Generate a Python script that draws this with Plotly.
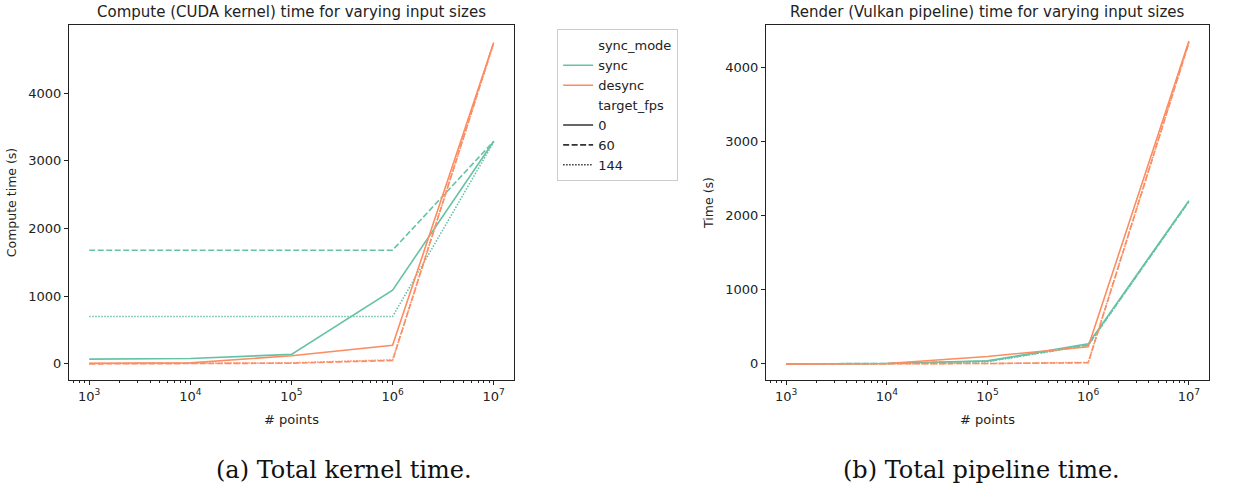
import plotly.graph_objects as go

# ---------------- data ----------------
points = [1e3, 1e4, 1e5, 1e6, 1e7]
x_tickvals = [1e3, 1e4, 1e5, 1e6, 1e7]
x_ticktext = ["10<sup>3</sup>", "10<sup>4</sup>", "10<sup>5</sup>", "10<sup>6</sup>", "10<sup>7</sup>"]

# Compute (CUDA kernel) time
compute_sync_0 = [70, 80, 140, 1090, 3290]
compute_sync_60 = [1680, 1680, 1680, 1680, 3290]
compute_sync_144 = [700, 700, 700, 700, 3280]
compute_desync_0 = [10, 15, 120, 275, 4750]
compute_desync_60 = [0, 0, 10, 50, 4750]
compute_desync_144 = [5, 5, 15, 60, 4740]

# Render (Vulkan pipeline) time
render_sync_0 = [0, 5, 40, 270, 2200]
render_sync_60 = [0, 5, 35, 255, 2190]
render_sync_144 = [0, 5, 30, 250, 2190]
render_desync_0 = [0, 5, 100, 230, 4350]
render_desync_60 = [0, 0, 5, 15, 4330]
render_desync_144 = [0, 0, 5, 20, 4330]

sync_modes = ["sync", "desync"]
target_fps = ["0", "60", "144"]

# ---------------- styles ----------------
GREEN = "#66c2a5"
ORANGE = "#fc8d62"
DARK = "#333333"
DASH = {"0": "solid", "60": "6px,2.5px", "144": "1.5px,1.5px"}
FONT = "DejaVu Sans"
LW = 1.6

fig = go.Figure()

compute = {
    ("sync", "0"): compute_sync_0, ("sync", "60"): compute_sync_60, ("sync", "144"): compute_sync_144,
    ("desync", "0"): compute_desync_0, ("desync", "60"): compute_desync_60, ("desync", "144"): compute_desync_144,
}
render = {
    ("sync", "0"): render_sync_0, ("sync", "60"): render_sync_60, ("sync", "144"): render_sync_144,
    ("desync", "0"): render_desync_0, ("desync", "60"): render_desync_60, ("desync", "144"): render_desync_144,
}
colors = {"sync": GREEN, "desync": ORANGE}

for data, xa, ya in [(compute, "x", "y"), (render, "x2", "y2")]:
    for mode in sync_modes:
        for fps in target_fps:
            fig.add_trace(go.Scatter(
                x=points, y=data[(mode, fps)], mode="lines",
                line=dict(color=colors[mode], width=LW, dash=DASH[fps]),
                xaxis=xa, yaxis=ya, showlegend=False, hoverinfo="skip"))

# legend entries
def legend_entry(name, color, dash="solid", width=LW):
    fig.add_trace(go.Scatter(x=[None], y=[None], mode="lines", name=name,
                             line=dict(color=color, width=width, dash=dash),
                             showlegend=True, xaxis="x", yaxis="y"))

legend_entry("sync_mode", "rgba(0,0,0,0)")
legend_entry("sync", GREEN)
legend_entry("desync", ORANGE)
legend_entry("target_fps", "rgba(0,0,0,0)")
legend_entry("0", DARK)
legend_entry("60", DARK, "6px,2.5px")
legend_entry("144", DARK, "1.5px,1.5px")

minor_vals = [m * 10 ** e for e in range(2, 8) for m in range(2, 10)]

def xaxis(domain, anchor):
    return dict(
        type="log", domain=domain, anchor=anchor, range=[2.8, 7.2],
        tickvals=x_tickvals, ticktext=x_ticktext,
        ticks="outside", ticklen=4, tickwidth=1, tickcolor="#222",
        minor=dict(ticks="outside", ticklen=2, tickwidth=0.8, tickcolor="#222", tickvals=minor_vals, showgrid=False),
        showline=True, linecolor="#222", linewidth=1, mirror=True,
        showgrid=False, zeroline=False,
        tickfont=dict(family=FONT, size=13, color="#222"),
        title=dict(text="# points", font=dict(family=FONT, size=13, color="#222"), standoff=12),
    )

def yaxis(domain, anchor, rng, title):
    return dict(
        domain=domain, anchor=anchor, range=rng,
        tickvals=[0, 1000, 2000, 3000, 4000],
        ticks="outside", ticklen=4, tickwidth=1, tickcolor="#222",
        showline=True, linecolor="#222", linewidth=1, mirror=True,
        showgrid=False, zeroline=False,
        tickfont=dict(family=FONT, size=13, color="#222"),
        title=dict(text=title, font=dict(family=FONT, size=12.5, color="#222"), standoff=8),
    )

ydom = [0.2261, 0.9491]
fig.update_layout(
    width=1252, height=491,
    margin=dict(l=0, r=0, t=0, b=0),
    paper_bgcolor="white", plot_bgcolor="white",
    xaxis=xaxis([0.0551, 0.4105], "y"),
    yaxis=yaxis(ydom, "x", [-238, 5008], "Compute time (s)"),
    xaxis2=xaxis([0.6118, 0.9657], "y2"),
    yaxis2=yaxis(ydom, "x2", [-217, 4567], "Time (s)"),
    legend=dict(x=0.445, y=0.94, xanchor="left", yanchor="top",
                bordercolor="#cccccc", borderwidth=1, bgcolor="white",
                font=dict(family=FONT, size=13, color="#222"),
                itemwidth=30, tracegroupgap=0),
    annotations=[
        dict(text="Compute (CUDA kernel) time for varying input sizes", x=0.2328, y=0.975,
             xref="paper", yref="paper", xanchor="center", yanchor="middle", showarrow=False,
             font=dict(family=FONT, size=15, color="#222")),
        dict(text="Render (Vulkan pipeline) time for varying input sizes", x=0.7888, y=0.975,
             xref="paper", yref="paper", xanchor="center", yanchor="middle", showarrow=False,
             font=dict(family=FONT, size=15, color="#222")),
        dict(text="(a) Total kernel time.", x=0.2747, y=0.042,
             xref="paper", yref="paper", xanchor="center", yanchor="middle", showarrow=False,
             font=dict(family="DejaVu Serif", size=24, color="#111")),
        dict(text="(b) Total pipeline time.", x=0.7838, y=0.042,
             xref="paper", yref="paper", xanchor="center", yanchor="middle", showarrow=False,
             font=dict(family="DejaVu Serif", size=24, color="#111")),
    ],
)

fig.write_html("out.html")
